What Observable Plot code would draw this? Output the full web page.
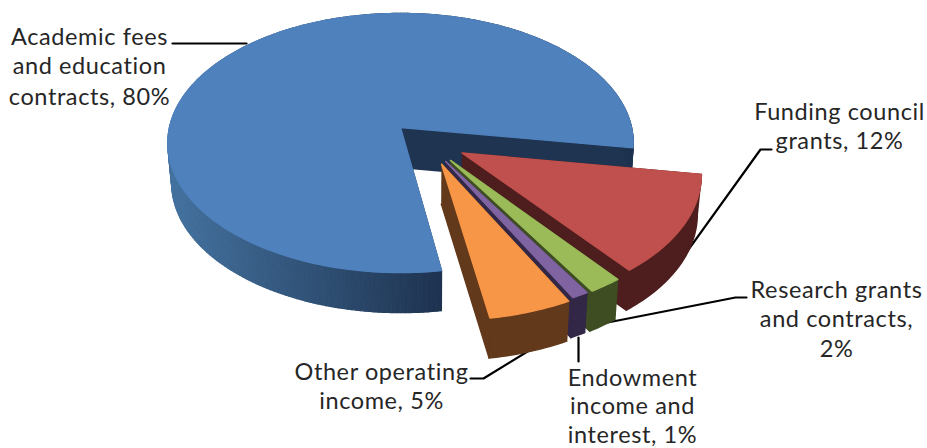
<!DOCTYPE html>
<html><head><meta charset="utf-8">
<script src="https://cdn.jsdelivr.net/npm/d3@7"></script>
<script src="https://cdn.jsdelivr.net/npm/@observablehq/plot@0.6"></script>
<style>html,body{margin:0;padding:0;background:#fff}svg{display:block}svg text{letter-spacing:.6px}</style>
</head><body><div id="chart"></div>
<script>
const categories = ["Academic fees and education contracts","Funding council grants","Research grants and contracts","Endowment income and interest","Other operating income"];
const shares = [80,12,2,1,5];
const topColors = ["#4f81bd","#c0504d","#9bbb59","#8064a2","#f79646"];
const wallColors = ["#1f3450","#4d1e1d","#3e4d22","#322746","#62391b"];
const explodeU = [0,0.26,0.21,0.19,0.172];
const explodeV = [0,-0.195,-0.25,-0.258,-0.278];
const labelLines = [["Academic fees","and education","contracts, 80%"],["Funding council","grants, 12%"],["Research grants","and contracts,","2%"],["Endowment","income and","interest, 1%"],["Other operating","income, 5%"]];
const labelX = [[89,89,89],[839,839],[836,836,836],[632,632,632],[381,381]];
const labelY = [[37,66,97],[112,141],[290,319,349],[378,406,435],[372,401]];
const leaders = [[[172,43],[246,43]],[[771,149],[760,149],[678,263]],[[746,297],[735,297],[602,323]],[[578,337],[578,361]],[[470,378],[483,378],[527,351]]];

// view of the tilted disc
const cx=400, cy=127, rx=231, ry=127.7, k=0.12, depth=40;
const project=(u,v,low)=>{const s=1/(1+k*v);const x=cx+rx*u*s,y=cy-ry*v*s;
  return low?[x+(430-x)*0.015,y+depth]:[x,y];};

let start = 99;  // first slice after the big one begins at this bearing
const order=[1,2,3,4,0];
const polys=[];
let id=0;
const add=(pts,color)=>{id++;for(const p of pts)polys.push({id,x:p[0],y:p[1],color});};
const slices={};
for(const i of order){const a0=start,a1=start+shares[i]*3.6;slices[i]=[a0,a1];start=a1;}
const rim=(i,a,low)=>{const t=a*Math.PI/180;return project(explodeU[i]+Math.sin(t),explodeV[i]+Math.cos(t),low);};
const shade=d3.scaleLinear().domain([170,440]).range(["#44729f","#1e3350"]).clamp(true);
for(const i of [0,1,2,3,4]){
  const [a0,a1]=slices[i];
  const angles=d3.range(a0,a1,1).concat([a1]);
  const A=project(explodeU[i],explodeV[i],false),B=project(explodeU[i],explodeV[i],true);
  add([A,rim(i,a0,false),rim(i,a0,true),B],wallColors[i]);
  add([A,rim(i,a1,false),rim(i,a1,true),B],wallColors[i]);
  if(i===0){
    for(let j=0;j<angles.length-1;j++){
      const p=rim(i,angles[j],false),q=rim(i,angles[j+1],false),r=rim(i,angles[j+1],true),o=rim(i,angles[j],true);
      add([p,q,r,o],shade((p[0]+q[0])/2));
    }
  } else {
    add([...angles.map(a=>rim(i,a,false)),...angles.slice().reverse().map(a=>rim(i,a,true))],wallColors[i]);
  }
  add([A,...angles.map(a=>rim(i,a,false)),A],topColors[i]);
}
const leaderRows=leaders.flatMap((l,n)=>l.map(p=>({n,x:p[0],y:p[1]})));
const labelRows=labelLines.flatMap((l,n)=>l.map((t,m)=>({t,x:labelX[n][m],y:labelY[n][m]})));

const chart=Plot.plot({width:927,height:448,margin:0,
  x:{domain:[0,927],range:[0,927],axis:null},
  y:{domain:[0,448],range:[0,448],axis:null},
  marks:[
    Plot.line(leaderRows,{x:"x",y:"y",z:"n",stroke:"#000",strokeWidth:2.2}),
    Plot.line(polys,{x:"x",y:"y",z:"id",fill:"color",stroke:"color",strokeWidth:1.4,curve:"linear"}),
    Plot.text(labelRows,{x:"x",y:"y",text:"t",fontSize:23.5,fontFamily:"Lato",fill:"#262626",textAnchor:"middle"})
  ]});
document.getElementById("chart").append(chart);
</script></body></html>
